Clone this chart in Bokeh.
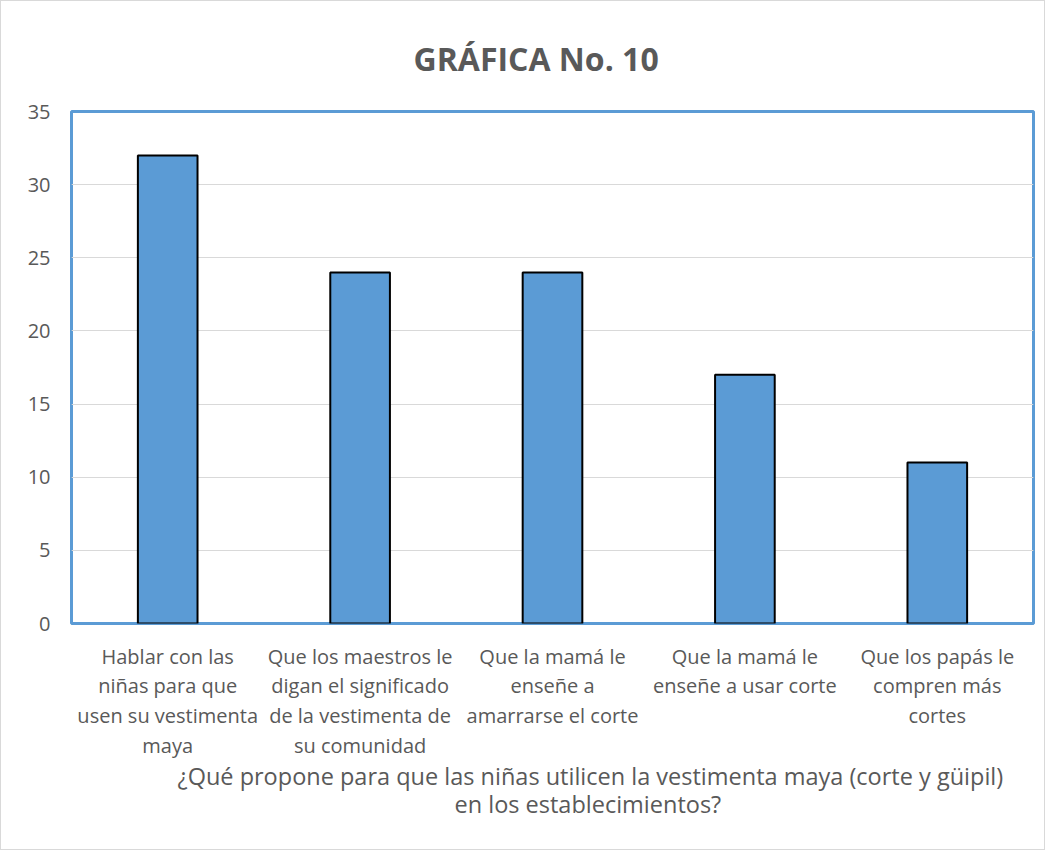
from bokeh.plotting import figure
from bokeh.models import FactorRange, SingleIntervalTicker, Title
from bokeh.embed import file_html
from bokeh.resources import INLINE

categories = [
    "Hablar con las\nniñas para que\nusen su vestimenta\nmaya",
    "Que los maestros le\ndigan el significado\nde la vestimenta de\nsu comunidad",
    "Que la mamá le\nenseñe a\namarrarse el corte",
    "Que la mamá le\nenseñe a usar corte",
    "Que los papás le\ncompren más\ncortes",
]
values = [32, 24, 24, 17, 11]
title_text = "GRÁFICA No. 10"
x_title_lines = [
    "¿Qué propone para que las niñas utilicen la vestimenta maya (corte y güipil)",
    "en los establecimientos?",
]

FONT = "Open Sans"
GRAY = "#595959"

p = figure(
    x_range=FactorRange(*categories, range_padding=0),
    y_range=(0, 35),
    width=1045, height=850,
    output_backend="svg", toolbar_location=None,
    min_border_left=70, min_border_right=13, min_border_top=110, min_border_bottom=228,
)
p.styles = {"border": "1px solid #d9d9d9"}

p.vbar(x=categories, top=values, width=0.31, fill_color="#5b9bd5",
       line_color="black", line_width=2)

p.title.text = title_text
p.title.text_font = FONT
p.title.text_font_size = "32px"
p.title.text_font_style = "bold"
p.title.text_color = GRAY
p.title.align = "left"
p.title.offset = 342
p.title.standoff = 64

p.outline_line_color = "#5b9bd5"
p.outline_line_width = 3
p.outline_line_alpha = 1

p.xgrid.grid_line_color = None
p.ygrid.grid_line_color = "#d9d9d9"
p.ygrid.grid_line_width = 1
p.yaxis.ticker = SingleIntervalTicker(interval=5)

p.yaxis.axis_line_color = None
p.yaxis.major_tick_line_color = None
p.yaxis.minor_tick_line_color = None
p.yaxis.major_label_text_font = FONT
p.yaxis.major_label_text_color = GRAY
p.yaxis.major_label_text_font_size = "20px"
p.yaxis.major_label_standoff = 15

xa = p.xaxis[0]
xa.axis_line_color = None
xa.major_tick_line_color = None
xa.minor_tick_line_color = None
xa.major_tick_out = 0
xa.major_tick_in = 0
xa.major_label_text_font = FONT
xa.major_label_text_color = GRAY
xa.major_label_text_font_size = "20px"
xa.major_label_text_line_height = 1.1
xa.major_label_orientation = "horizontal"
xa.major_label_standoff = 19

# x axis title, one Title per line
offsets = [106, 383]
standoffs = [-7, -6]
for line, off, so in zip(x_title_lines, offsets, standoffs):
    p.add_layout(Title(text=line, text_font=FONT, text_font_size="23.5px",
                       text_font_style="normal", text_color=GRAY, align="left",
                       offset=off, standoff=so), "below")

open("out.html", "w").write(file_html(p, INLINE))
